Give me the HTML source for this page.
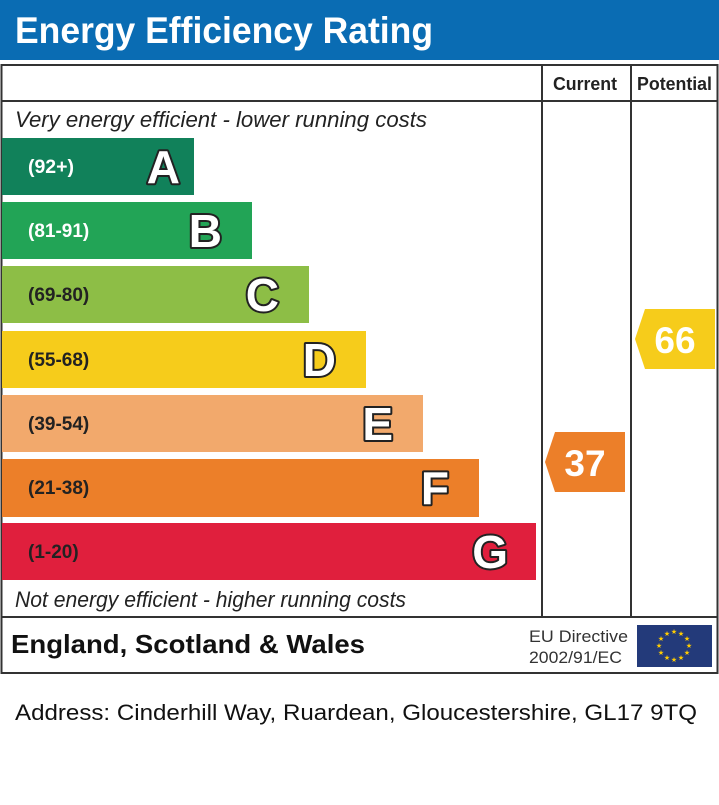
<!DOCTYPE html>
<html><head><meta charset="utf-8"><style>body{margin:0;background:#fff}svg{display:block}</style></head><body>
<svg width="719" height="805" xmlns="http://www.w3.org/2000/svg" font-family="Liberation Sans, Arial, sans-serif">
<rect x="0" y="0" width="719" height="60" fill="#0a6cb3"/>
<text x="15" y="43" fill="#fff" font-size="37" font-weight="bold" textLength="418" lengthAdjust="spacingAndGlyphs">Energy Efficiency Rating</text>
<rect x="1.5" y="65" width="716" height="608" fill="#fff" stroke="#333" stroke-width="2"/>
<line x1="1" y1="101" x2="718" y2="101" stroke="#333" stroke-width="2"/>
<line x1="1" y1="617" x2="718" y2="617" stroke="#333" stroke-width="2"/>
<line x1="542" y1="65" x2="542" y2="617" stroke="#333" stroke-width="2"/>
<line x1="631" y1="65" x2="631" y2="617" stroke="#333" stroke-width="2"/>
<text x="553" y="90" font-size="18" font-weight="bold" fill="#222" textLength="64" lengthAdjust="spacingAndGlyphs">Current</text>
<text x="637" y="90" font-size="18" font-weight="bold" fill="#222" textLength="75" lengthAdjust="spacingAndGlyphs">Potential</text>
<text x="15" y="127" font-size="22" font-style="italic" fill="#222" textLength="412" lengthAdjust="spacingAndGlyphs">Very energy efficient - lower running costs</text>
<text x="15" y="607" font-size="22" font-style="italic" fill="#222" textLength="391" lengthAdjust="spacingAndGlyphs">Not energy efficient - higher running costs</text>
<g font-weight="bold">
<rect x="2" y="138" width="192" height="57" fill="#11815a"/>
<text x="28" y="173" font-size="19" fill="#fff" textLength="46" lengthAdjust="spacingAndGlyphs">(92+)</text>
<rect x="2" y="202" width="250" height="57" fill="#22a456"/>
<text x="28" y="237" font-size="19" fill="#fff">(81-91)</text>
<rect x="2" y="266" width="307" height="57" fill="#8dbe46"/>
<text x="28" y="301" font-size="19" fill="#222">(69-80)</text>
<rect x="2" y="331" width="364" height="57" fill="#f6cc1b"/>
<text x="28" y="366" font-size="19" fill="#222">(55-68)</text>
<rect x="2" y="395" width="421" height="57" fill="#f2a96c"/>
<text x="28" y="430" font-size="19" fill="#222">(39-54)</text>
<rect x="2" y="459" width="477" height="58" fill="#ec7f29"/>
<text x="28" y="494" font-size="19" fill="#222">(21-38)</text>
<rect x="2" y="523" width="534" height="57" fill="#e01f3d"/>
<text x="28" y="558" font-size="19" fill="#222">(1-20)</text>
<g font-size="46" fill="#fff" stroke="#222" stroke-width="4" paint-order="stroke" stroke-linejoin="round" text-anchor="end">
<text x="180" y="183">A</text>
<text x="222" y="247">B</text>
<text x="279" y="311">C</text>
<text x="336" y="376">D</text>
<text x="393" y="440">E</text>
<text x="449" y="504">F</text>
<text x="508" y="568">G</text>
</g>
<polygon points="555,432 625,432 625,492 555,492 545,462" fill="#ec7f29"/>
<text x="585" y="476" font-size="37" fill="#fff" text-anchor="middle">37</text>
<polygon points="645,309 715,309 715,369 645,369 635,339" fill="#f6cc1b"/>
<text x="675" y="353" font-size="37" fill="#fff" text-anchor="middle">66</text>
</g>
<text x="11" y="653" font-size="26" font-weight="bold" fill="#111" textLength="354" lengthAdjust="spacingAndGlyphs">England, Scotland &amp; Wales</text>
<text x="529" y="642" font-size="17" fill="#333" textLength="99" lengthAdjust="spacingAndGlyphs">EU Directive</text>
<text x="529" y="663" font-size="17" fill="#333" textLength="93" lengthAdjust="spacingAndGlyphs">2002/91/EC</text>
<rect x="637" y="625" width="75" height="42" fill="#233a7a"/>
<g fill="#fc0" font-size="7" text-anchor="middle">
<text x="674" y="634">★</text><text x="681" y="636">★</text><text x="687" y="641">★</text><text x="689" y="648">★</text><text x="687" y="655">★</text><text x="681" y="660">★</text><text x="674" y="662">★</text><text x="667" y="660">★</text><text x="661" y="655">★</text><text x="659" y="648">★</text><text x="661" y="641">★</text><text x="667" y="636">★</text>
</g>
<text x="15" y="720" font-size="22" fill="#111" textLength="682" lengthAdjust="spacingAndGlyphs">Address: Cinderhill Way, Ruardean, Gloucestershire, GL17 9TQ</text>
</svg>
</body></html>
